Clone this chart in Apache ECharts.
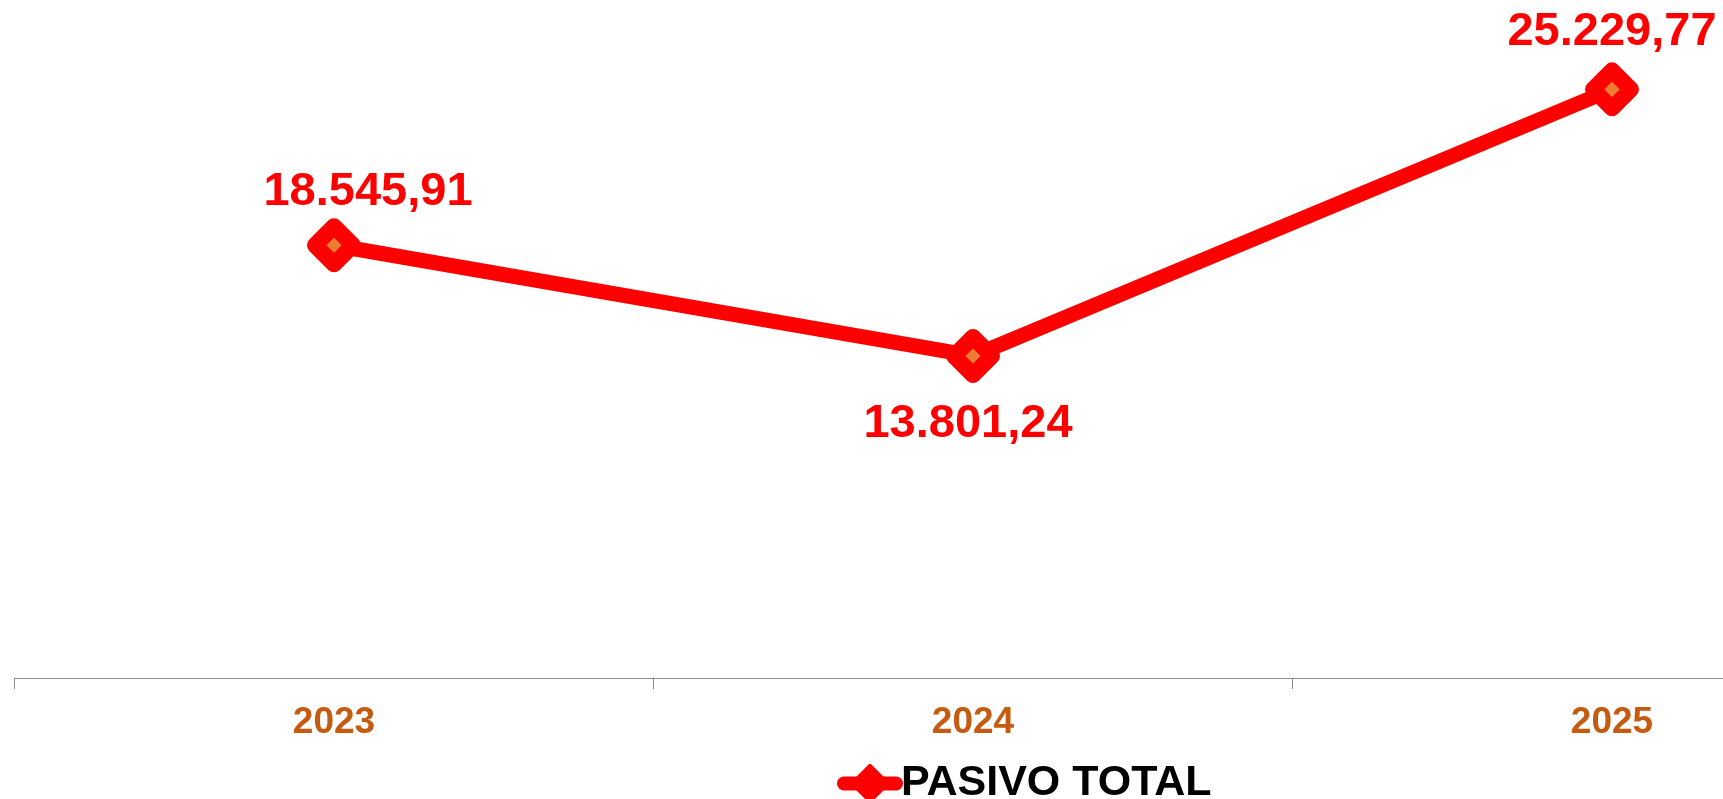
<!DOCTYPE html>
<html>
<head>
    <meta charset="utf-8">
    <title>PASIVO TOTAL</title>
    <script src="https://cdn.jsdelivr.net/npm/echarts@6/dist/echarts.min.js"></script>
    <style type="text/css">
        html, body {
            margin: 0;
            padding: 0;
            background: #ffffff;
        }
        #chart {
            width: 1723px;
            height: 799px;
        }
    </style>
</head>
<body>
<div id="chart"></div>
<script>
    // datos
    var years = ['2023', '2024', '2025'];
    var pasivoTotal = [18545.91, 13801.24, 25229.77];
    var seriesName = 'PASIVO TOTAL';

    // desplazamiento de cada etiqueta respecto al punto
    var labelShift = [[34, -53], [-5, 68], [0, -57]];

    var FONT = '"Liberation Sans", Arial, sans-serif';

    function formatoEs(v) {
        var partes = v.toFixed(2).split('.');
        var entero = partes[0].replace(/\B(?=(\d{3})+(?!\d))/g, '.');
        return entero + ',' + partes[1];
    }

    var puntos = pasivoTotal.map(function (v, i) {
        return {
            value: v,
            label: {offset: labelShift[i]}
        };
    });

    var chart = echarts.init(document.getElementById('chart'));
    var option = {
        backgroundColor: '#ffffff',
        animation: false,
        grid: {
            left: 14.5,
            right: -208.5,
            top: -22,
            bottom: 121,
            containLabel: false,
            outerBoundsMode: 'none'
        },
        legend: {
            data: [seriesName],
            left: 832,
            top: 757,
            itemWidth: 52,
            itemHeight: 44,
            itemGap: 5,
            textStyle: {
                color: '#000000',
                fontSize: 43,
                fontWeight: 'bold',
                fontFamily: FONT
            },
            itemStyle: {
                color: '#ff0000',
                borderColor: '#ff0000',
                borderWidth: 4,
                borderJoin: 'round'
            },
            lineStyle: {
                color: '#ff0000',
                width: 14,
                cap: 'round'
            }
        },
        xAxis: {
            type: 'category',
            data: years,
            boundaryGap: true,
            axisLine: {
                lineStyle: {color: '#8c8c8c', width: 1}
            },
            axisTick: {
                show: true,
                length: 11,
                lineStyle: {color: '#8c8c8c', width: 1}
            },
            axisLabel: {
                color: '#c55a11',
                fontSize: 37,
                fontWeight: 'bold',
                fontFamily: FONT,
                margin: 26
            },
            splitLine: {show: false}
        },
        yAxis: {
            type: 'value',
            show: false,
            min: 0,
            max: 30000,
            splitLine: {show: false}
        },
        series: [
            {
                name: seriesName,
                type: 'line',
                data: puntos,
                symbol: 'diamond',
                symbolSize: 38,
                itemStyle: {
                    color: '#ed7d31',
                    borderColor: '#ff0000',
                    borderWidth: 16,
                    borderJoin: 'round'
                },
                lineStyle: {
                    color: '#ff0000',
                    width: 15
                },
                label: {
                    show: true,
                    position: 'inside',
                    align: 'center',
                    verticalAlign: 'middle',
                    color: '#ff0000',
                    fontSize: 47,
                    fontWeight: 'bold',
                    fontFamily: FONT,
                    formatter: function (p) {
                        return formatoEs(p.value);
                    }
                },
                emphasis: {disabled: true}
            }
        ]
    };
    chart.setOption(option);
</script>
</body>
</html>
